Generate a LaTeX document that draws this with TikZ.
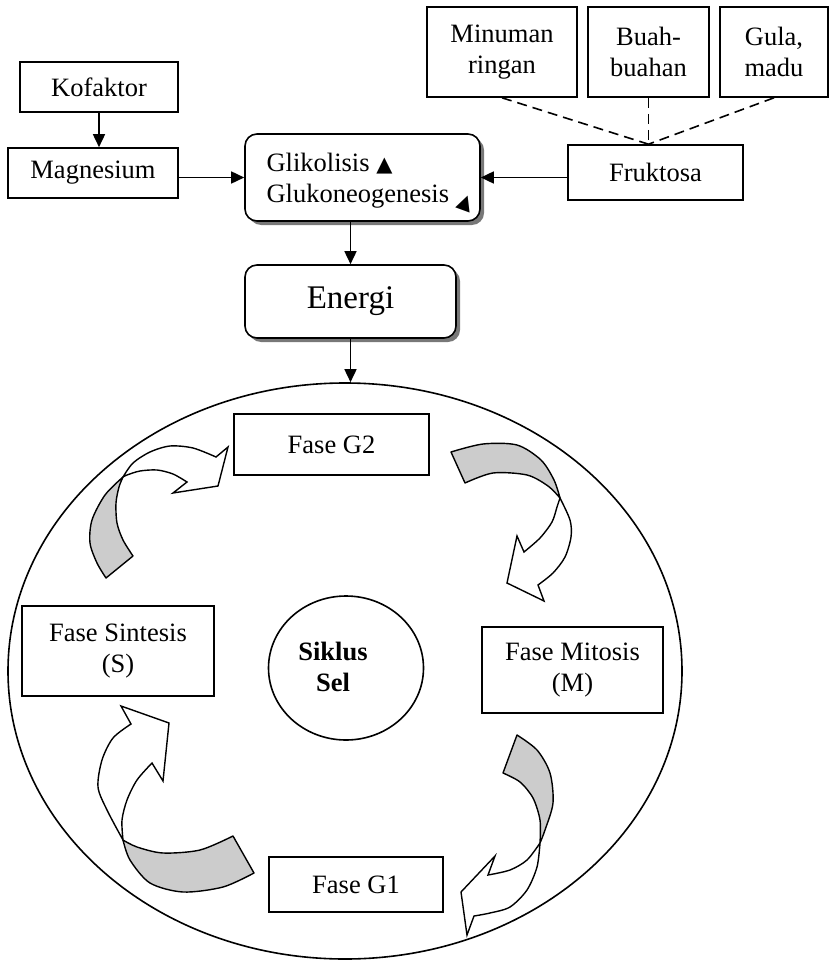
\documentclass[tikz,border=0pt]{standalone}
\usepackage{fontspec}
\usepackage{graphicx}
\setmainfont{Liberation Serif}
\newfontfamily\symfont{DejaVu Sans}
\usetikzlibrary{arrows.meta,shapes.geometric,shadows}
\definecolor{bandgray}{RGB}{204,204,204}
\definecolor{shadowgray}{RGB}{120,120,120}
\newcommand\upmark{{\symfont\fontsize{21}{21}\selectfont ▲}}
\newcommand\tiltmark{\raisebox{-3pt}{\rotatebox{-20}{\symfont\fontsize{20}{20}\selectfont ▲}}}

\begin{document}
\begin{tikzpicture}[x=1pt,y=-1pt,
  font=\fontsize{26.5}{31}\selectfont,
  box/.style={draw, line width=1.6pt, align=center, inner sep=0pt},
  rbox/.style={box, rounded corners=12pt, fill=white,
    drop shadow={shadow xshift=4pt, shadow yshift=-4pt, fill=shadowgray, opacity=1}},
  arr/.style={line width=1.6pt, -{Triangle[length=13pt,width=12pt]}},
  band/.style={draw, line width=1.4pt, fill=bandgray, line join=round},
  head/.style={draw, line width=1.4pt, fill=white}]
\useasboundingbox (0,0) rectangle (830,960);

% top row
\node[box, minimum width=158pt, minimum height=50pt] (kof) at (99,87) {Kofaktor};
\node[box, minimum width=170pt, minimum height=50pt] (mag) at (93,173) {Magnesium};
\node[rbox, minimum width=235pt, minimum height=87pt] (glyco) at (362.5,177.5) {};
\node[align=left, inner sep=0pt] (glycotxt) at (371,183) {Glikolisis \upmark\\Glukoneogenesis \tiltmark};
\node[box, minimum width=175pt, minimum height=55pt] (fruk) at (655.5,172.5) {Fruktosa};
\node[box, minimum width=150pt, minimum height=90pt] (minum) at (502,52) {Minuman\\ringan};
\node[box, minimum width=121pt, minimum height=90pt] (buah) at (648.5,52) {Buah-\\buahan};
\node[box, minimum width=108pt, minimum height=90pt] (gula) at (774,52) {Gula,\\madu};
\node[rbox, minimum width=211pt, minimum height=73pt, font=\fontsize{33}{38}\selectfont] (energi) at (350.5,301.5) {Energi};

\coordinate (meet) at (fruk.north -| buah.south);
\draw[line width=1.6pt, dash pattern=on 10pt off 6pt] (minum.south) -- (meet);
\draw[line width=1.6pt, dash pattern=on 10pt off 6pt] (buah.south) -- (meet);
\draw[line width=1.6pt, dash pattern=on 10pt off 6pt] (gula.south) -- (meet);

\draw[arr] (kof.south) -- (kof.south |- mag.north);
\draw[arr] (glyco.west -| mag.east) -- (glyco.west);
\draw[arr] (glyco.east -| fruk.west) -- (glyco.east);
\draw[arr] (glyco.south -| energi.north) -- (energi.north);

% cell cycle
\node[draw, ellipse, line width=1.6pt, minimum width=674pt, minimum height=576pt, inner sep=0pt] (cell) at (345,671) {};
\draw[arr] (energi.south) -- (energi.south |- cell.north);
\node[draw, ellipse, line width=1.6pt, minimum width=155pt, minimum height=144pt, inner sep=0pt] (siklus) at (346,668) {};
\node[align=center, font=\fontsize{26.5}{31}\selectfont\bfseries] (sikluslbl) at (333,667) {Siklus\\Sel};

\node[box, minimum width=195pt, minimum height=61pt] (g2) at (331.5,444.5) {Fase G2};
\node[box, minimum width=192pt, minimum height=90pt] (sint) at (118,651) {Fase Sintesis\\(S)};
\node[box, minimum width=181pt, minimum height=86pt] (mito) at (572.5,670) {Fase Mitosis\\(M)};
\node[box, minimum width=174pt, minimum height=55pt] (g1) at (356,884.5) {Fase G1};

% S to G2
\path[band] (106,578) -- (133,556) -- plot[smooth] coordinates {(133,556) (123,540) (117,523) (116,503) (119,487) (123,477)}
  -- plot[smooth] coordinates {(123,477) (105,495) (92,520) (90,543) (97,563) (106,578)} -- cycle;
\path[head] plot[smooth] coordinates {(123,477) (133,463) (150,452) (170,446) (193,448) (216,457)} -- (228,447) -- (218,486) -- (173,493)
  -- plot[smooth] coordinates {(187,482) (173,474) (157,470) (140,471) (127,475) (123,477)} -- cycle;

% G2 to M
\path[band] (451,452) -- (465,483) -- plot[smooth] coordinates {(465,483) (493,473) (527,475) (548,486) (560,498)}
  -- plot[smooth] coordinates {(560,498) (554,480) (541,460) (517,445) (483,444) (451,452)} -- cycle;
\path[head] plot[smooth] coordinates {(560,498) (570,520) (571,537) (565,557) (553,573) (538,585)} -- (544,601) -- (507,583) -- (517,536)
  -- plot[smooth] coordinates {(524,552) (540,538) (552,522) (557,507) (560,498)} -- cycle;

% M to G1
\path[band] (517,735) -- (503,773) -- plot[smooth] coordinates {(503,773) (520,782) (533,798) (540,820) (540,843)}
  -- plot[smooth] coordinates {(540,843) (545,830) (553,803) (550,773) (537,750) (517,735)} -- cycle;
\path[head] plot[smooth] coordinates {(540,843) (537,867) (527,890) (510,907) (490,913) (474,916)} -- (467,935) -- (461,892) -- (495,856)
  -- plot[smooth] coordinates {(488,875) (510,870) (527,860) (540,843)} -- cycle;

% G1 to S
\path[band] (233,836) -- (254,873) -- plot[smooth] coordinates {(254,873) (223,887) (183,892) (150,883) (130,860) (123,840)}
  -- plot[smooth] coordinates {(123,840) (137,847) (163,853) (200,850) (233,836)} -- cycle;
\path[head] plot[smooth] coordinates {(123,840) (107,810) (98,787) (102,760) (113,738) (131,724)} -- (121,706) -- (169,723) -- (163,781)
  -- plot[smooth] coordinates {(152,763) (137,780) (127,800) (122,820) (123,840)} -- cycle;
\end{tikzpicture}
\end{document}
